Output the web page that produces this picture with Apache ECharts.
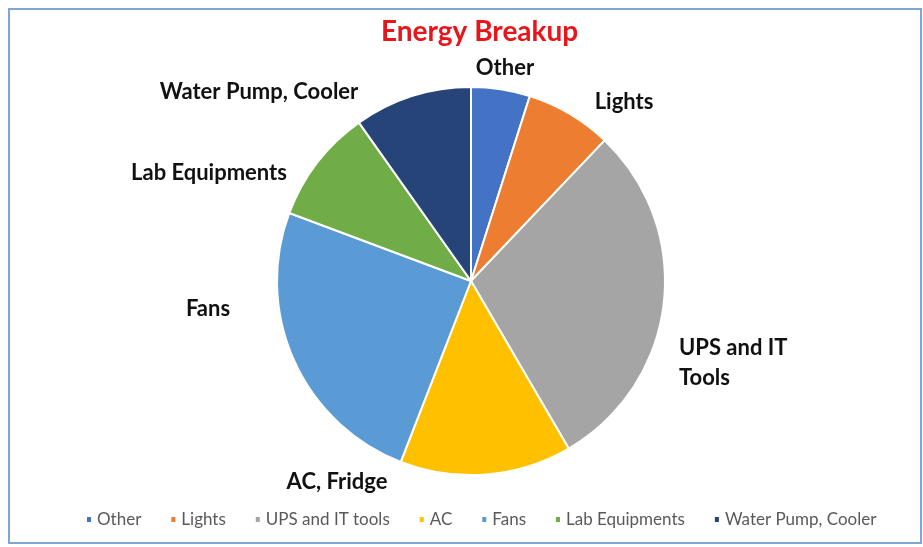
<!DOCTYPE html>
<html>
<head>
<meta charset="utf-8">
<script src="https://cdn.jsdelivr.net/npm/echarts@6/dist/echarts.min.js"></script>
<style>html,body{margin:0;padding:0;background:#fff}#c{width:923px;height:547px}</style>
</head>
<body>
<div id="c"></div>
<script>
var categories = ['Other', 'Lights', 'UPS and IT tools', 'AC', 'Fans', 'Lab Equipments', 'Water Pump, Cooler'];
var sliceLabels = ['Other', 'Lights', 'UPS and IT\nTools', 'AC, Fridge', 'Fans', 'Lab Equipments', 'Water Pump, Cooler'];
var values = [4.9, 7.2, 29.5, 14.3, 24.8, 9.5, 9.8];
var colors = ['#4472C4', '#ED7D31', '#A5A5A5', '#FFC000', '#5B9BD5', '#70AD47', '#264478'];

// label anchor placement (as laid out in the original chart)
var labelPlacement = [
  {x: 505, y: 68, align: 'center'},
  {x: 624, y: 102, align: 'center'},
  {x: 679, y: 363, align: 'left'},
  {x: 337, y: 482, align: 'center'},
  {x: 208, y: 309, align: 'center'},
  {x: 209, y: 173, align: 'center'},
  {x: 259, y: 92, align: 'center'}
];

var chart = echarts.init(document.getElementById('c'), null, {renderer: 'canvas'});
var data = categories.map(function (n, i) {
  return {name: n, value: values[i], itemStyle: {color: colors[i]}, label: {formatter: sliceLabels[i]}};
});
chart.setOption({
  animation: false,
  graphic: [{
    type: 'rect', shape: {x: 9, y: 9, width: 912, height: 534},
    style: {fill: 'none', stroke: '#7FA6D6', lineWidth: 2}, z: -1
  }],
  title: {
    text: 'Energy Breakup', left: 376, top: 13,
    textStyle: {color: '#E8151B', fontSize: 28, fontWeight: 'bold', fontFamily: 'Lato'}
  },
  legend: {
    top: 506, left: 80, itemWidth: 6, itemHeight: 7, itemGap: 28, icon: 'rect',
    textStyle: {color: '#595959', fontSize: 17, fontFamily: 'Lato'},
    data: categories
  },
  series: [{
    type: 'pie', center: [471, 281], radius: 194, startAngle: 90, clockwise: true,
    data: data,
    itemStyle: {borderColor: '#fff', borderWidth: 2},
    label: {
      show: true, position: 'outside', color: '#111', fontSize: 22, fontWeight: 'bold',
      fontFamily: 'Lato', lineHeight: 30
    },
    labelLine: {show: false},
    labelLayout: function (p) {
      var lp = labelPlacement[p.dataIndex];
      return {x: lp.x, y: lp.y, align: lp.align, verticalAlign: 'middle'};
    },
    emphasis: {disabled: true}
  }]
});
</script>
</body>
</html>
